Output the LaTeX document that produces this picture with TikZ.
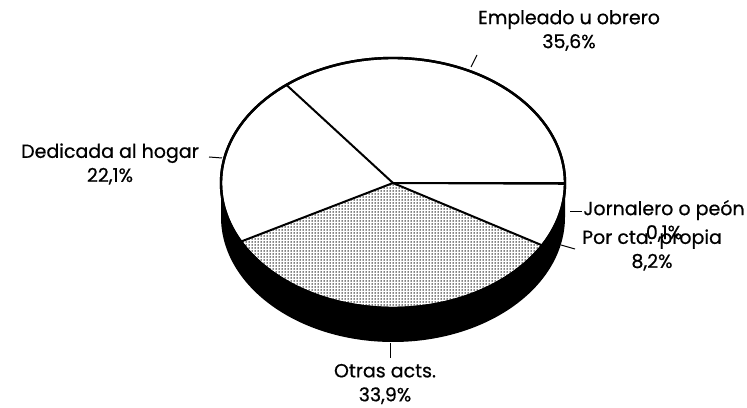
\documentclass[tikz,border=0pt]{standalone}
\usepackage{fontspec}
\setmainfont{Poppins}[FakeBold=0.6]
\usetikzlibrary{patterns.meta}
\begin{document}
\begin{tikzpicture}[x=1pt,y=1pt]
    \tikzstyle{every node}+=[inner sep=0pt]
    \tikzstyle{lbl}=[align=center, font=\fontsize{19}{24}\selectfont]
    \tikzstyle{rim}=[black, line width=2.4pt]
    \tikzstyle{cut}=[black, line width=2pt]
    \tikzstyle{tick}=[black, line width=1pt]
    \useasboundingbox (0,0) rectangle (747,407);
    \coordinate (cen) at (393,224);
    % side of the pie
    \fill [black] (cen) ++(180:172pt and 125pt) arc [start angle=180, end angle=360, x radius=172pt, y radius=125pt] -- ++(0,-34) arc [start angle=360, end angle=180, x radius=172pt, y radius=125pt] -- cycle;
    % top of the pie
    \draw [rim, fill=white] (cen) ellipse [x radius=172pt, y radius=125pt];
    \fill [pattern={Dots[radius=0.75pt, distance=3pt]}] (cen) -- +(207.93:172pt and 125pt) arc [start angle=207.93, end angle=330.09, x radius=172pt, y radius=125pt] -- cycle;
    \path (cen) ++(0:172pt and 125pt) coordinate (bJorEmp);
    \path (cen) ++(128.29:172pt and 125pt) coordinate (bEmpDed);
    \path (cen) ++(207.93:172pt and 125pt) coordinate (bDedOtr);
    \path (cen) ++(330.09:172pt and 125pt) coordinate (bOtrPor);
    \path (cen) ++(359.64:172pt and 125pt) coordinate (bPorJor);
    \draw [cut] (cen) -- (bJorEmp);
    \draw [cut] (cen) -- (bEmpDed);
    \draw [cut] (cen) -- (bDedOtr);
    \draw [cut] (cen) -- (bOtrPor);
    \draw [cut] (cen) -- (bPorJor);
    \draw [rim] (cen) ellipse [x radius=172pt, y radius=125pt];
    % labels
    \node [lbl] (empleado) at (569,376.5) {Empleado u obrero\\35,6\%};
    \node [lbl] (hogar) at (110,243) {Dedicada al hogar\\22,1\%};
    \node [lbl] (jornalero) at (664,186) {Jornalero o peón\\0,1\%};
    \node [lbl] (propia) at (652,157) {Por cta. propia\\8,2\%};
    \node [lbl] (otras) at (385,23) {Otras acts.\\33,9\%};
    % leader ticks
    \coordinate (tEmpA) at (471,340);
    \coordinate (tEmpB) at (477,352);
    \coordinate (tHogA) at (222,249);
    \coordinate (tHogB) at (209,250);
    \coordinate (tJorA) at (570,195);
    \coordinate (tJorB) at (582,195);
    \coordinate (tPorA) at (561,162);
    \coordinate (tPorB) at (575,158);
    \coordinate (tOtrA) at (390,64);
    \coordinate (tOtrB) at (390,49);
    \draw [tick] (tEmpA) -- (tEmpB);
    \draw [tick] (tHogA) -- (tHogB);
    \draw [tick] (tJorA) -- (tJorB);
    \draw [tick] (tPorA) -- (tPorB);
    \draw [tick] (tOtrA) -- (tOtrB);
\end{tikzpicture}
\end{document}
